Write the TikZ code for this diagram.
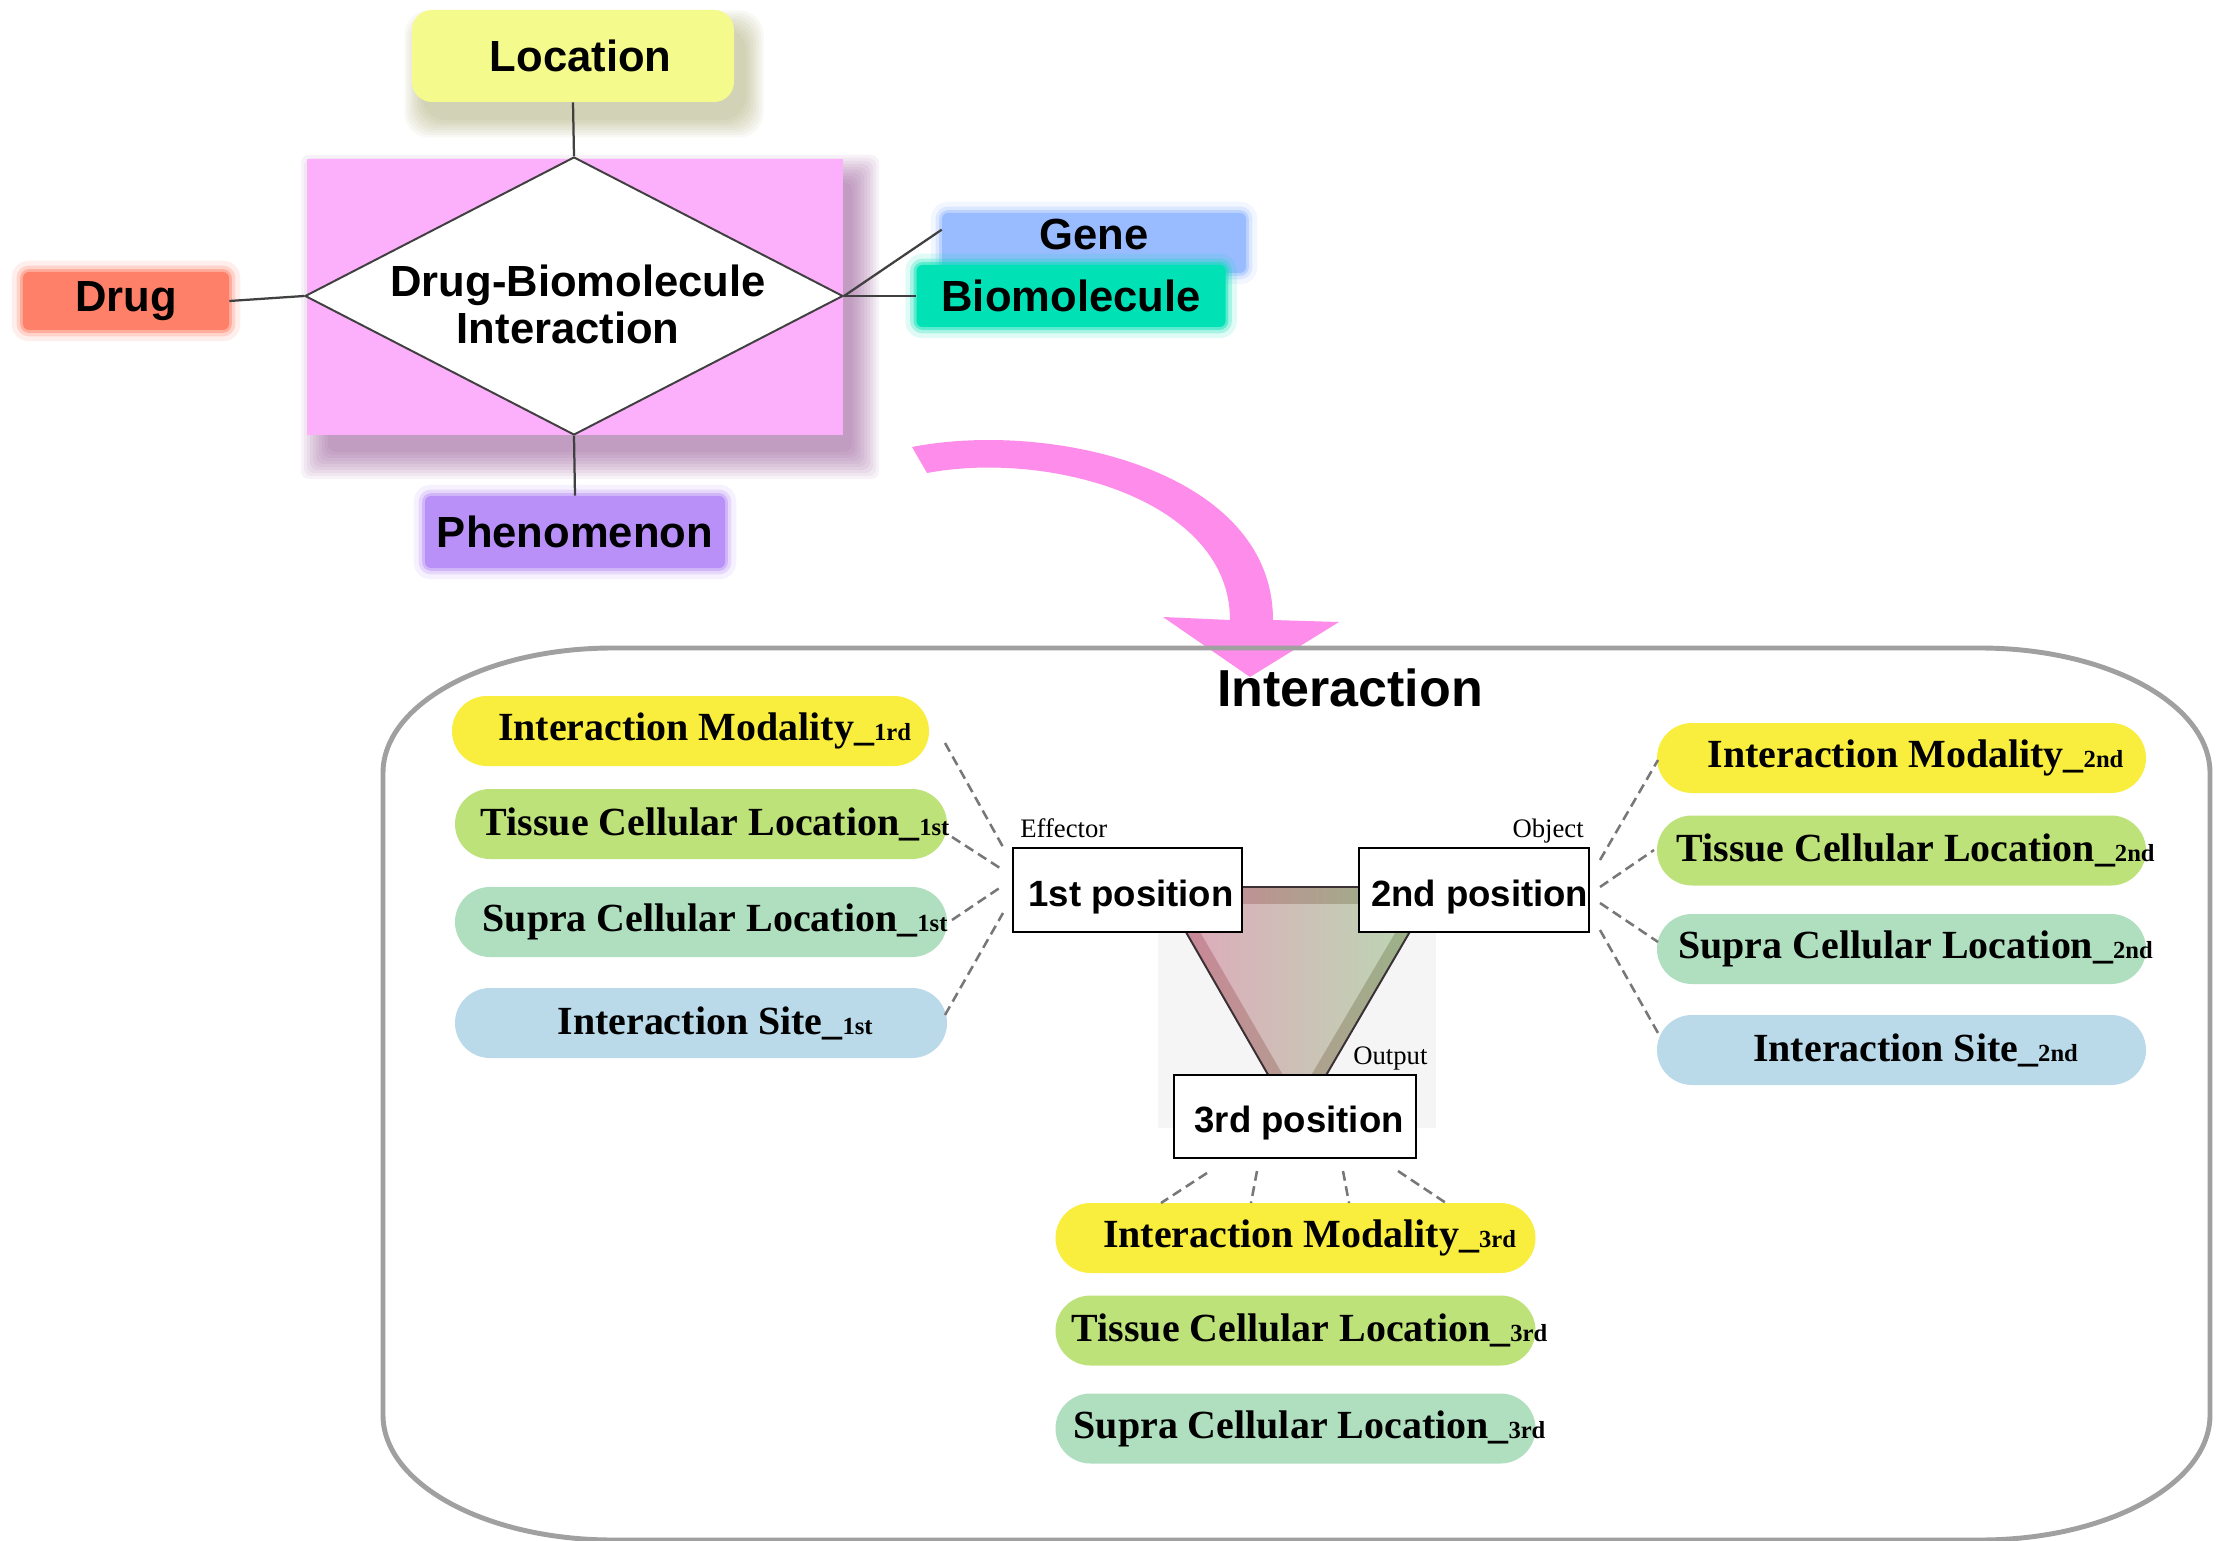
\documentclass[tikz,border=0pt]{standalone}
\usepackage{fontspec}
\setmainfont{Liberation Serif}
\newfontfamily\arialf{Liberation Sans}
\usetikzlibrary{shapes.geometric}
\definecolor{locY}{HTML}{F5FA8C}
\definecolor{pinkbg}{HTML}{FCB0FC}
\definecolor{drugC}{HTML}{FF8068}
\definecolor{geneC}{HTML}{99BBFF}
\definecolor{bioC}{HTML}{00E2B6}
\definecolor{phenC}{HTML}{B890F8}
\definecolor{arrowC}{HTML}{FD8CEB}
\definecolor{pillY}{HTML}{F9EE3E}
\definecolor{pillG}{HTML}{BEE27A}
\definecolor{pillM}{HTML}{B0DFC0}
\definecolor{pillB}{HTML}{BADAEA}
\definecolor{frameC}{HTML}{A0A0A0}
\definecolor{dashC}{HTML}{777777}
\definecolor{lineC}{HTML}{404040}
\definecolor{shadowL}{HTML}{8C8C40}
\definecolor{shadowP}{HTML}{904890}
\definecolor{bgGray}{HTML}{F5F5F5}
\definecolor{triL}{HTML}{CF8299}
\definecolor{triR}{HTML}{95B886}
\definecolor{triLi}{HTML}{DEABBB}
\definecolor{triRi}{HTML}{BCD6B3}
\definecolor{triEdge}{HTML}{3A3035}
\newcommand{\topfont}{\arialf\bfseries\fontsize{31pt}{33.5pt}\selectfont}
\newcommand{\posfont}{\arialf\bfseries\fontsize{26pt}{30pt}\selectfont}
\newcommand{\pillfont}{\bfseries\fontsize{28.4pt}{32pt}\selectfont}
\newcommand{\smallfont}{\fontsize{19pt}{22pt}\selectfont}
\newcommand{\pilltxt}[2]{\makebox[0pt]{\kern20pt #1\_{\fontsize{17.5pt}{20pt}\selectfont #2}}}
\newcommand{\postxt}[2]{\makebox[0pt]{\kern#1\raisebox{-11.5pt}[0pt][0pt]{#2}}}
\tikzset{
  glow/.style={fill=#1,
    preaction={draw=#1, draw opacity=0.12, line width=16pt},
    preaction={draw=#1, draw opacity=0.25, line width=9pt},
    preaction={draw=#1, draw opacity=0.45, line width=4pt}},
  topbox/.style={rectangle, rounded corners=2.5mm, inner sep=0pt, font=\topfont},
  conn/.style={draw=lineC, line width=1.6pt},
  pill/.style={rectangle, rounded corners=8.75mm, minimum height=17.5mm, inner sep=0pt, font=\pillfont},
  posbox/.style={rectangle, draw=black, line width=1.8pt, fill=white, inner sep=0pt, font=\posfont},
  dashc/.style={draw=dashC, line width=1.8pt, dash pattern=on 7pt off 4pt},
  smalllab/.style={font=\smallfont, inner sep=0pt},
}
\begin{document}
\begin{tikzpicture}[x=0.25mm,y=-0.25mm]
\useasboundingbox (0,0) rectangle (2226,1541);
\fill[white] (0,0) rectangle (2226,1541);

% ---------- soft shadows ----------
\foreach \i in {0,...,9}
  \fill[shadowP, opacity=0.07, rounded corners=2mm] ({328-3*\i},{182-3*\i}) rectangle ({852+3*\i},{452+3*\i});
\foreach \i in {0,...,7}
  \fill[shadowL, opacity=0.055, rounded corners=6mm] ({422-2.5*\i},{28-2.5*\i}) rectangle ({746+2.5*\i},{120+2.5*\i});

% ---------- top diagram ----------
\node[rectangle, fill=pinkbg, minimum width=134mm, minimum height=69mm, inner sep=0pt] (pinkbox) at (575,297) {};
\node[diamond, draw=lineC, line width=1.4pt, fill=white, minimum width=134.5mm,
      minimum height=69.5mm, inner sep=0pt] (dbi) at (574,296) {};
\node[font=\topfont, align=center, inner sep=0pt] (dbitext) at (578,304) {Drug-Biomolecule\\Interaction\hspace*{14pt}};

\node[topbox, rounded corners=5mm, fill=locY, minimum width=80.5mm, minimum height=23mm] (loc) at (573,56) {\makebox[0pt]{\kern11pt Location}};
\node[topbox, rounded corners=1.5mm, glow=drugC, minimum width=51.5mm, minimum height=14.5mm] (drug) at (126,301) {Drug};
\node[topbox, rounded corners=1.5mm, glow=geneC, minimum width=76mm, minimum height=15mm] (gene) at (1094,243) {\raisebox{-4.7pt}[0pt][0pt]{Gene}};
\node[topbox, rounded corners=1.5mm, glow=bioC, minimum width=77.25mm, minimum height=15.5mm] (bio) at (1071,296) {Biomolecule};
\node[topbox, rounded corners=1.5mm, glow=phenC, minimum width=75mm, minimum height=18mm] (phen) at (575,532) {Phenomenon};

\draw[conn] (loc.south) -- (dbi.north);
\draw[conn] (dbi.south) -- (phen.north);
\draw[conn] (drug.east) -- (dbi.west);
\draw[conn] (dbi.east) -- (bio.west);
\draw[conn] (dbi.east) -- (gene.175);

% ---------- pink curved arrow ----------
\coordinate (arrowstart) at (912,447);
\coordinate (arrowtip) at (1250,677);
\fill[arrowC] (arrowstart) .. controls (1050,420) and (1273,470) .. (1273,620)
  -- (1339,622) -- (arrowtip) -- (1163,617) -- (1230,620)
  .. controls (1230,500) and (1050,450) .. (927,473) -- cycle;

% ---------- interaction frame ----------
\draw[frameC, line width=3.5pt] (613,648) -- (1980,648)
  .. controls (2107,648) and (2210,704) .. (2210,773) -- (2210,1415)
  .. controls (2210,1484) and (2107,1540) .. (1980,1540) -- (613,1540)
  .. controls (486,1540) and (383,1484) .. (383,1415) -- (383,773)
  .. controls (383,704) and (486,648) .. (613,648) -- cycle;
\node[font=\arialf\bfseries\fontsize{37pt}{40pt}\selectfont, anchor=base, inner sep=0pt] (title) at (1350,706) {Interaction};

% ---------- triangle ----------
\fill[bgGray] (1158,887) rectangle (1436,1128);
\shadedraw[left color=triL, right color=triR, draw=triEdge, line width=1.4pt]
  (1160,887) -- (1436,887) -- (1297,1125) -- cycle;
\shade[left color=triLi, right color=triRi] (1184,904) -- (1412,904) -- (1297,1099) -- cycle;

% ---------- position boxes ----------
\node[posbox, minimum width=57.25mm, minimum height=21mm] (pos1) at (1127.5,890) {\postxt{5pt}{1st position}};
\node[posbox, minimum width=57.5mm, minimum height=21mm] (pos2) at (1474,890) {\postxt{8pt}{2nd position}};
\node[posbox, minimum width=60.5mm, minimum height=20.75mm] (pos3) at (1295,1116.5) {\postxt{6pt}{3rd position}};

\node[smalllab, anchor=base west] (eff) at (1020,837) {Effector};
\node[smalllab, anchor=base east] (obj) at (1584,837) {Object};
\node[smalllab, anchor=base west] (outp) at (1353,1064) {Output};

% ---------- pills ----------
\node[pill, fill=pillY, minimum width=119.25mm] (im1) at (690.5,731) {\pilltxt{Interaction Modality}{1rd}};
\node[pill, fill=pillG, minimum width=123mm] (tc1) at (701,824) {\pilltxt{Tissue Cellular Location}{1st}};
\node[pill, fill=pillM, minimum width=123mm] (sc1) at (701,922) {\pilltxt{Supra Cellular Location}{1st}};
\node[pill, fill=pillB, minimum width=123mm] (is1) at (701,1023) {\pilltxt{Interaction Site}{1st}};

\node[pill, fill=pillY, minimum width=122.25mm] (im2) at (1901.5,758) {\pilltxt{Interaction Modality}{2nd}};
\node[pill, fill=pillG, minimum width=122.25mm] (tc2) at (1901.5,850.5) {\pilltxt{Tissue Cellular Location}{2nd}};
\node[pill, fill=pillM, minimum width=122.25mm] (sc2) at (1901.5,949) {\pilltxt{Supra Cellular Location}{2nd}};
\node[pill, fill=pillB, minimum width=122.25mm] (is2) at (1901.5,1050) {\pilltxt{Interaction Site}{2nd}};

\node[pill, fill=pillY, minimum width=120mm] (im3) at (1295.5,1238) {\pilltxt{Interaction Modality}{3rd}};
\node[pill, fill=pillG, minimum width=120mm] (tc3) at (1295.5,1330.5) {\pilltxt{Tissue Cellular Location}{3rd}};
\node[pill, fill=pillM, minimum width=120mm] (sc3) at (1295.5,1428.5) {\pilltxt{Supra Cellular Location}{3rd}};

% ---------- dashed connectors ----------
\coordinate (im1e) at (945,743);  \coordinate (p1a) at (1003,847);
\coordinate (tc1e) at (952,837);  \coordinate (p1b) at (1003,870);
\coordinate (sc1e) at (952,920);  \coordinate (p1c) at (1001,887);
\coordinate (is1e) at (945,1015); \coordinate (p1d) at (1003,913);
\draw[dashc] (im1e) -- (p1a);
\draw[dashc] (tc1e) -- (p1b);
\draw[dashc] (sc1e) -- (p1c);
\draw[dashc] (is1e) -- (p1d);

\coordinate (im2e) at (1658,760);  \coordinate (p2a) at (1600,860);
\coordinate (tc2e) at (1654,850);  \coordinate (p2b) at (1600,887);
\coordinate (sc2e) at (1658,942);  \coordinate (p2c) at (1600,903);
\coordinate (is2e) at (1658,1033); \coordinate (p2d) at (1600,930);
\draw[dashc] (p2a) -- (im2e);
\draw[dashc] (p2b) -- (tc2e);
\draw[dashc] (p2c) -- (sc2e);
\draw[dashc] (p2d) -- (is2e);

\coordinate (p3a) at (1207,1173); \coordinate (im3a) at (1161,1203);
\coordinate (p3b) at (1257,1171); \coordinate (im3b) at (1251,1203);
\coordinate (p3c) at (1343,1171); \coordinate (im3c) at (1349,1203);
\coordinate (p3d) at (1398,1171); \coordinate (im3d) at (1446,1203);
\draw[dashc] (p3a) -- (im3a);
\draw[dashc] (p3b) -- (im3b);
\draw[dashc] (p3c) -- (im3c);
\draw[dashc] (p3d) -- (im3d);
\end{tikzpicture}
\end{document}
